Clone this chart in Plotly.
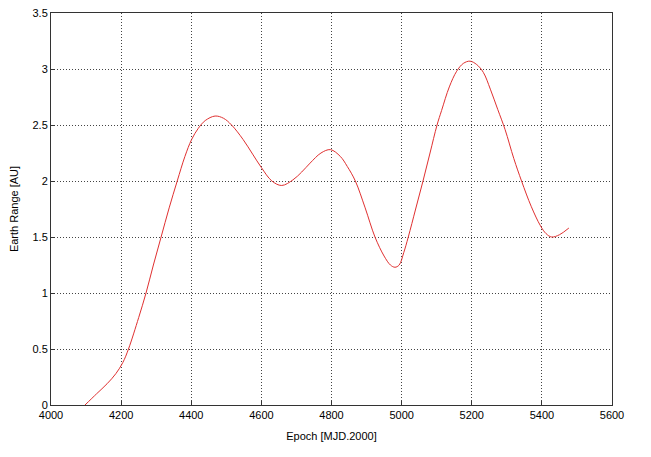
import plotly.graph_objects as go

epoch = [4097, 4130, 4160, 4185, 4205, 4221, 4250, 4271, 4292, 4314, 4337, 4360,
         4382, 4401, 4420, 4440, 4468, 4492, 4515, 4548, 4575, 4600, 4630, 4658,
         4690, 4715, 4739, 4770, 4797, 4825, 4845, 4868, 4896, 4924, 4950, 4968,
         4981, 4993, 5006, 5019, 5040, 5061, 5081, 5101, 5114, 5136, 5157, 5176,
         5195, 5214, 5233, 5253, 5274, 5295, 5320, 5342, 5370, 5396, 5412, 5428,
         5450, 5477]
earth_range = [0.0, 0.10, 0.19, 0.28, 0.38, 0.50, 0.78, 1.0, 1.25, 1.5, 1.76, 2.0,
               2.22, 2.37, 2.47, 2.54, 2.58, 2.56, 2.50, 2.37, 2.24, 2.12, 2.0, 1.96,
               2.01, 2.08, 2.16, 2.25, 2.28, 2.22, 2.13, 2.0, 1.76, 1.5, 1.33, 1.25,
               1.23, 1.25, 1.36, 1.5, 1.75, 2.0, 2.25, 2.5, 2.63, 2.84, 2.98, 3.05,
               3.07, 3.04, 2.97, 2.82, 2.64, 2.46, 2.20, 2.0, 1.77, 1.60, 1.53, 1.50,
               1.52, 1.58]

x_ticks = [4000, 4200, 4400, 4600, 4800, 5000, 5200, 5400, 5600]
y_ticks = [0, 0.5, 1, 1.5, 2, 2.5, 3, 3.5]
y_labels = ["0", "0.5", "1", "1.5", "2", "2.5", "3", "3.5"]

font = dict(family="Liberation Sans, Arial", size=11, color="#000")

fig = go.Figure()
fig.add_trace(go.Scatter(x=epoch, y=earth_range, mode="lines",
                         line=dict(color="#e03030", width=1, shape="spline", smoothing=1.0),
                         showlegend=False))

axis_common = dict(showline=True, linecolor="#333", linewidth=1, mirror=True,
                   showgrid=True, gridcolor="#444", gridwidth=1, griddash="1px,2px",
                   zeroline=False, ticks="inside", ticklen=4, tickcolor="#333",
                   tickfont=font, automargin=False, ticklabeloverflow="allow")

fig.update_xaxes(range=[4000, 5600], tickvals=x_ticks,
                 title=dict(text="Epoch [MJD.2000]", font=font, standoff=12),
                 **axis_common)
fig.update_yaxes(range=[0, 3.5], tickvals=y_ticks, ticktext=y_labels,
                 title=dict(text="Earth Range [AU]", font=font, standoff=12),
                 **axis_common)

fig.update_layout(width=651, height=457, margin=dict(l=43, r=47, t=5, b=60),
                  plot_bgcolor="white", paper_bgcolor="white")

fig.write_html("out.html")
